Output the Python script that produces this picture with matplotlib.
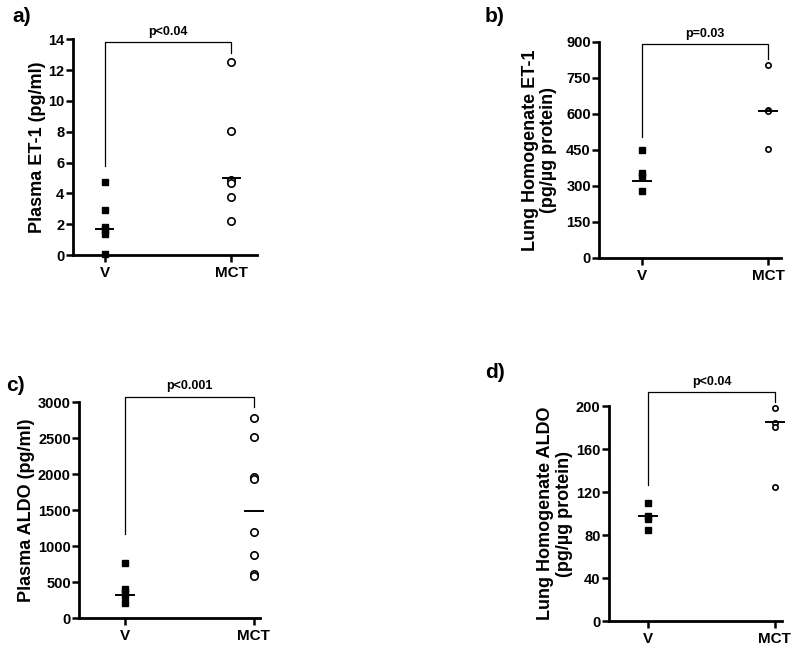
import matplotlib
matplotlib.use("Agg")
import matplotlib.pyplot as plt
import numpy as np

plt.rcParams['font.family'] = ['Liberation Sans', 'DejaVu Sans']
plt.rcParams['font.weight'] = 'bold'

groups = ["V", "MCT"]

# panel a
a_v = [4.75, 2.9, 1.8, 1.6, 1.35, 0.1]
a_mct = [12.5, 8.05, 4.85, 4.65, 3.75, 2.2]
a_means = [1.7, 5.0]
# panel b
b_v = [450, 355, 340, 280]
b_mct = [805, 615, 610, 455]
b_means = [320, 610]
# panel c
c_v = [770, 400, 360, 300, 210]
c_mct = [2780, 2510, 1960, 1930, 1200, 870, 610, 590]
c_means = [320, 1490]
# panel d
d_v = [110, 98, 95, 85]
d_mct = [198, 184, 181, 125]
d_means = [98, 185]

panels = [
    dict(label="a)", v=a_v, m=a_mct, means=a_means, ylab="Plasma ET-1 (pg/ml)",
         yticks=[0, 2, 4, 6, 8, 10, 12, 14], ylim=(0, 14), xlim=(-0.25, 1.2),
         pos=[0.091, 0.610, 0.230, 0.330], p="p<0.04",
         br=(13.8, 5.8, 13.1), circ=5.3, sq=4.8, lpos=(0.015, 0.975), labx=-0.19),
    dict(label="b)", v=b_v, m=b_mct, means=b_means,
         ylab="Lung Homogenate ET-1\n(pg/µg protein)",
         yticks=[0, 150, 300, 450, 600, 750, 900], ylim=(0, 900), xlim=(-0.34, 1.10),
         pos=[0.749, 0.606, 0.227, 0.330], p="p=0.03",
         br=(889, 504, 830), circ=3.8, sq=4.8, lpos=(0.606, 0.975), labx=-0.33),
    dict(label="c)", v=c_v, m=c_mct, means=c_means, ylab="Plasma ALDO (pg/ml)",
         yticks=[0, 500, 1000, 1500, 2000, 2500, 3000], ylim=(0, 3000), xlim=(-0.36, 1.05),
         pos=[0.099, 0.055, 0.226, 0.330], p="p<0.001",
         br=(3079, 1171, 2940), circ=5.3, sq=4.8, lpos=(0.008, 0.41), labx=-0.29),
    dict(label="d)", v=d_v, m=d_mct, means=d_means,
         ylab="Lung Homogenate ALDO\n(pg/µg protein)",
         yticks=[0, 40, 80, 120, 160, 200], ylim=(0, 200), xlim=(-0.31, 1.06),
         pos=[0.761, 0.050, 0.217, 0.329], p="p<0.04",
         br=(213, 127, 204), circ=3.8, sq=4.4, lpos=(0.606, 0.43), labx=-0.31),
]

fig = plt.figure(figsize=(8, 6.54), dpi=100)

for P in panels:
    ax = fig.add_axes(P["pos"])
    x = np.arange(len(groups))
    ax.plot([x[0]] * len(P["v"]), P["v"], linestyle="none", marker="s",
            markersize=P["sq"], color="black", clip_on=False)
    ax.plot([x[1]] * len(P["m"]), P["m"], linestyle="none", marker="o",
            markersize=P["circ"], markerfacecolor="white", markeredgecolor="black",
            markeredgewidth=1.2, clip_on=False)
    for xi, mu in zip(x, P["means"]):
        ax.plot([xi - 0.07, xi + 0.07], [mu, mu], color="black", lw=1.4, clip_on=False)
    ax.set_xlim(*P["xlim"])
    ax.set_ylim(*P["ylim"])
    ax.set_yticks(P["yticks"])
    ax.set_xticks(x)
    ax.set_xticklabels(groups, fontsize=11, fontweight="bold")
    ax.tick_params(axis="y", labelsize=10.5, width=1.8, length=5, direction="out", pad=1)
    ax.tick_params(axis="x", width=1.8, length=5, direction="out", pad=3)
    for t in ax.get_yticklabels():
        t.set_fontweight("bold")
    for s in ["top", "right"]:
        ax.spines[s].set_visible(False)
    for s in ["left", "bottom"]:
        ax.spines[s].set_linewidth(2)
    ax.set_ylabel(P["ylab"], fontsize=13, fontweight="bold", linespacing=1.1)
    ax.yaxis.set_label_coords(P["labx"], 0.5)
    ax.yaxis.label.set_va("center")
    top, lleg, rleg = P["br"]
    ax.plot([x[0], x[0], x[1], x[1]], [lleg, top, top, rleg], color="black",
            lw=0.9, clip_on=False)
    ax.annotate(P["p"], xy=((x[0] + x[1]) / 2, top), xytext=(0, 3),
                textcoords="offset points", ha="center", va="bottom",
                fontsize=9, fontweight="bold", annotation_clip=False)
    fig.text(P["lpos"][0], P["lpos"][1], P["label"], fontsize=15, fontweight="bold",
             ha="left", va="center")

fig.savefig("out.png", dpi=100)
